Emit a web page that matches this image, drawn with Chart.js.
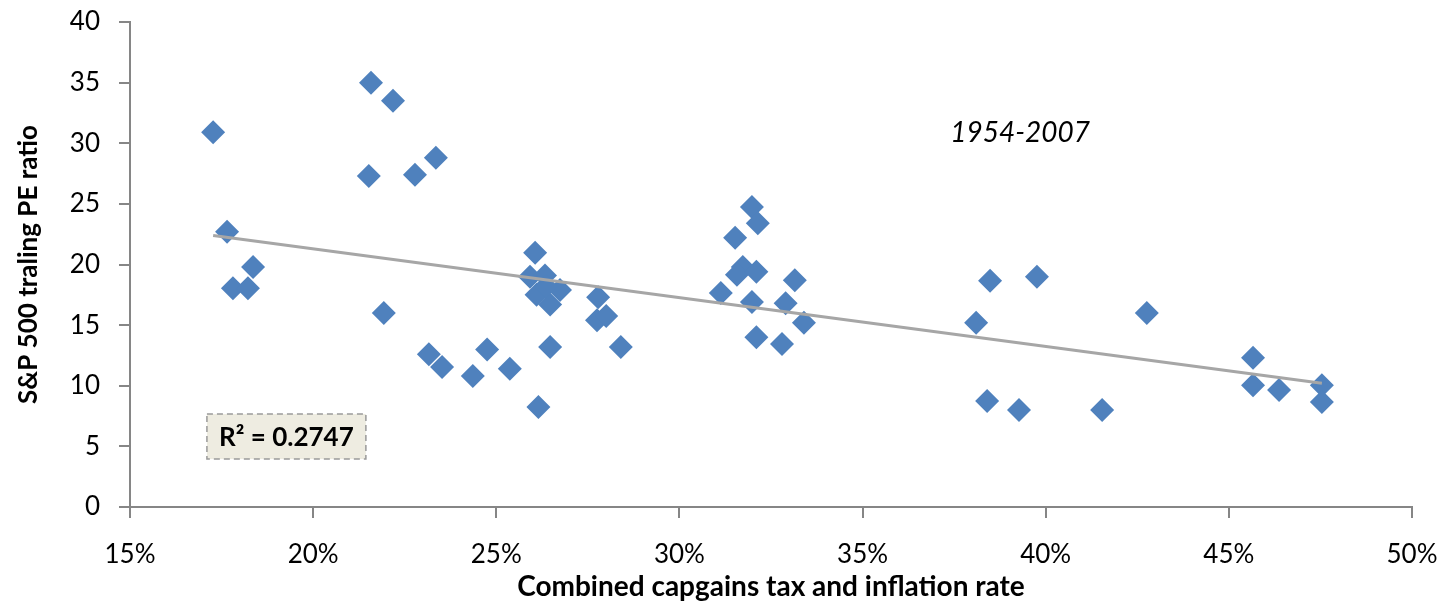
<!DOCTYPE html>
<html lang="en">

<head>
    <meta charset="UTF-8">
    <title>S&amp;P 500 PE vs capgains tax and inflation</title>
    <script src="https://cdn.jsdelivr.net/npm/chart.js"></script>
    <style>
        body {
            margin: 0;
            background: #fff;
        }
    </style>
</head>

<body>
    <canvas id="peChart" width="1456" height="606"></canvas>

    <script>
        // Combined capgains tax + inflation rate (%), one point per year
        const taxInflationRate = [
            17.27, 17.65, 17.81, 18.22, 18.36, 21.58, 22.18, 21.52, 22.78, 23.35,
            21.93, 23.16, 23.52, 24.36, 24.75, 25.37, 26.06, 25.92, 26.33, 26.10,
            26.74, 26.47, 26.35, 26.47, 26.15, 27.78, 27.75, 28.00, 28.40, 31.13,
            31.98, 32.14, 31.52, 31.73, 31.57, 32.10, 33.15, 31.98, 32.90, 33.40,
            32.10, 32.80, 38.48, 39.76, 38.10, 42.76, 38.40, 39.27, 41.54, 45.66,
            45.66, 46.37, 47.54, 47.54
        ];

        // S&P 500 trailing PE ratio
        const trailingPE = [
            30.9, 22.7, 18.05, 18.05, 19.8, 35.0, 33.5, 27.3, 27.4, 28.8,
            16.0, 12.6, 11.55, 10.8, 13.0, 11.4, 20.96, 19.0, 19.1, 17.5,
            17.9, 16.7, 18.2, 13.2, 8.25, 17.3, 15.4, 15.75, 13.2, 17.65,
            24.75, 23.4, 22.2, 19.8, 19.15, 19.4, 18.7, 16.9, 16.8, 15.2,
            14.0, 13.45, 18.65, 18.98, 15.2, 16.0, 8.75, 8.0, 8.0, 12.3,
            10.05, 9.65, 10.05, 8.65
        ];

        // Linear trendline ends as shown on the chart
        const trendX = [17.27, 47.54];
        const trendY = [22.4, 10.2];

        const xTicks = [15, 20, 25, 30, 35, 40, 45, 50];
        const yTicks = [0, 5, 10, 15, 20, 25, 30, 35, 40];

        const periodLabel = '1954-2007';
        const rSquaredLabel = 'R² = 0.2747';

        const axisColor = '#868686';
        const fontFamily = 'Lato, "Open Sans", sans-serif';

        // Draws the period text and the R² box (anchored in data units)
        const annotations = {
            id: 'annotations',
            afterDatasetsDraw(chart) {
                const { ctx, scales: { x, y } } = chart;
                ctx.save();

                // R² label box
                const left = x.getPixelForValue(17.1);
                const right = x.getPixelForValue(21.44);
                const top = y.getPixelForValue(7.67);
                const bottom = y.getPixelForValue(3.96);
                ctx.fillStyle = '#EEECE1';
                ctx.fillRect(left, top, right - left, bottom - top);
                ctx.setLineDash([6, 4]);
                ctx.strokeStyle = '#9a9a9a';
                ctx.lineWidth = 1.5;
                ctx.strokeRect(left, top, right - left, bottom - top);
                ctx.setLineDash([]);

                ctx.fillStyle = '#000';
                ctx.textAlign = 'center';
                ctx.textBaseline = 'middle';
                ctx.font = 'bold 26px ' + fontFamily;
                ctx.fillText(rSquaredLabel, (left + right) / 2, (top + bottom) / 2 + 1);

                // period text
                ctx.font = 'italic 28px ' + fontFamily;
                ctx.fillText(periodLabel, x.getPixelForValue(39.3), y.getPixelForValue(30.86));

                ctx.restore();
            }
        };

        const ctx = document.getElementById('peChart').getContext('2d');
        new Chart(ctx, {
            type: 'scatter',
            data: {
                datasets: [
                    {
                        type: 'line',
                        label: 'Trend',
                        data: trendX.map((v, i) => ({ x: v, y: trendY[i] })),
                        borderColor: '#A6A6A6',
                        borderWidth: 3,
                        pointRadius: 0,
                        fill: false,
                        order: 0
                    },
                    {
                        label: 'PE ratio',
                        data: taxInflationRate.map((v, i) => ({ x: v, y: trailingPE[i] })),
                        backgroundColor: '#4F81BD',
                        borderColor: '#4F81BD',
                        borderWidth: 0,
                        pointStyle: 'rectRot',
                        pointRadius: 12,
                        pointHoverRadius: 12,
                        order: 1
                    }
                ]
            },
            options: {
                responsive: false,
                animation: false,
                layout: {
                    autoPadding: false,
                    padding: { top: 22, right: 44, left: 0, bottom: 0 }
                },
                plugins: {
                    legend: { display: false },
                    tooltip: { enabled: false }
                },
                scales: {
                    x: {
                        type: 'linear',
                        min: 15,
                        max: 50,
                        afterBuildTicks: (axis) => {
                            axis.ticks = xTicks.map(v => ({ value: v }));
                        },
                        afterFit: (axis) => {
                            axis.height = 99;
                            axis.paddingLeft = 0;
                            axis.paddingRight = 0;
                        },
                        ticks: {
                            callback: (v) => v + '%',
                            color: '#000',
                            padding: 21,
                            maxRotation: 0,
                            font: { family: fontFamily, size: 26 }
                        },
                        grid: {
                            drawOnChartArea: false,
                            drawTicks: true,
                            tickLength: 11,
                            color: axisColor,
                            lineWidth: 2
                        },
                        border: { color: axisColor, width: 2 },
                        title: {
                            display: true,
                            text: 'Combined capgains tax and inflation rate',
                            color: '#000',
                            padding: { top: 0, bottom: 2 },
                            font: { family: fontFamily, size: 28, weight: 'bold' }
                        }
                    },
                    y: {
                        min: 0,
                        max: 40,
                        afterBuildTicks: (axis) => {
                            axis.ticks = yTicks.map(v => ({ value: v }));
                        },
                        afterFit: (axis) => {
                            axis.width = 130;
                            axis.paddingTop = 0;
                            axis.paddingBottom = 0;
                        },
                        ticks: {
                            color: '#000',
                            padding: 19,
                            font: { family: fontFamily, size: 26 }
                        },
                        grid: {
                            drawOnChartArea: false,
                            drawTicks: true,
                            tickLength: 11,
                            color: axisColor,
                            lineWidth: 2
                        },
                        border: { color: axisColor, width: 2 },
                        title: {
                            display: true,
                            text: 'S&P 500 traling PE ratio',
                            color: '#000',
                            padding: { top: 13, bottom: 0 },
                            font: { family: fontFamily, size: 26, weight: 'bold' }
                        }
                    }
                }
            },
            plugins: [annotations]
        });
    </script>
</body>

</html>
